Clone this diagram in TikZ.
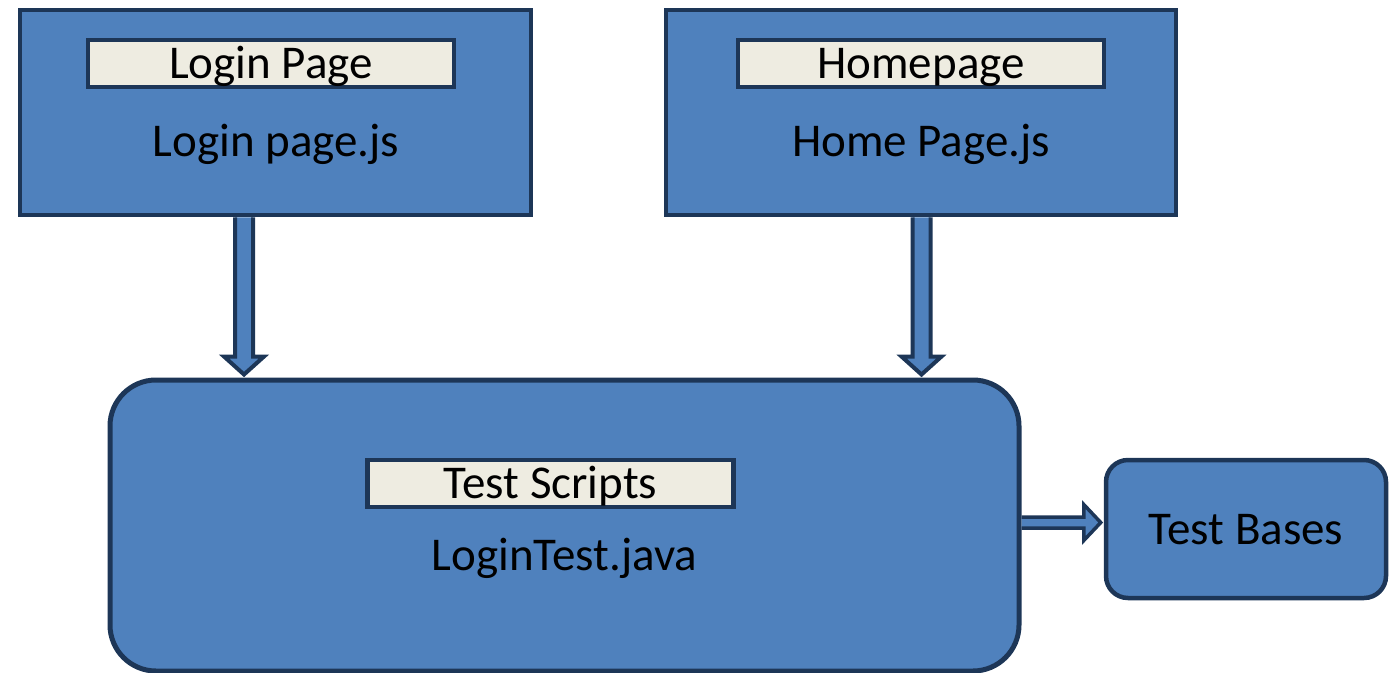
\documentclass[tikz,border=0pt]{standalone}
\usepackage{fontspec}
\setmainfont{Carlito}
\usetikzlibrary{calc}
\definecolor{boxblue}{HTML}{4F81BD}
\definecolor{navy}{HTML}{1D3657}
\definecolor{cream}{HTML}{EEECE1}
\begin{document}
\begin{tikzpicture}[x=1pt,y=-1pt,
  txt/.style={font=\fontsize{47}{50}\selectfont, text height=30pt, text depth=0pt, inner sep=0pt, text=black},
  bigbox/.style={draw=navy, line width=4.5pt, fill=boxblue, inner sep=0pt},
  labelbox/.style={draw=navy, line width=4.5pt, fill=cream, inner sep=0pt, minimum width=366pt, minimum height=47pt, txt},
  blockarrow/.style={draw=navy, fill=boxblue, line width=4pt, line join=miter}
]
\useasboundingbox (0,0) rectangle (1396,672);
% top boxes
\node[bigbox, minimum width=511pt, minimum height=205pt] (b1) at (275.5,112.5) {};
\node[bigbox, minimum width=510pt, minimum height=205pt] (b2) at (921,112.5) {};
\node[labelbox] (l1) at (271,63.5) {Login Page};
\node[labelbox] (l2) at (921,63.5) {Homepage};
\node[txt] (t1) at (276,141) {Login page.js};
\node[txt] (t2) at (921,141) {Home Page.js};
% big rounded box
\node[bigbox, line width=5pt, rounded corners=46pt, minimum width=909pt, minimum height=291pt] (ts) at (564.5,525.5) {};
\node[labelbox] (l3) at (550.5,483.5) {Test Scripts};
\node[txt] (t3) at (564.5,555) {LoginTest.java};
% test bases
\node[bigbox, rounded corners=22pt, minimum width=280pt, minimum height=138pt, txt] (tb) at (1246,529) {Test Bases};
% connector coordinates
\coordinate (x1) at (244,0);
\coordinate (x2) at (921.5,0);
\coordinate (y3) at (0,522.5);
\coordinate (s1) at (b1.south -| x1);
\coordinate (e1) at ($(ts.north -| x1)+(0,-3)$);
\coordinate (s2) at (b2.south -| x2);
\coordinate (e2) at ($(ts.north -| x2)+(0,-3)$);
\coordinate (s3) at (ts.east |- y3);
\coordinate (e3) at ($(tb.west |- y3)+(-3,0)$);
% arrows
\draw[blockarrow] ($(s1)+(-9,0)$) -- ($(e1)+(-9,-18)$) -- ($(e1)+(-20,-18)$) -- (e1)
  -- ($(e1)+(20,-18)$) -- ($(e1)+(9,-18)$) -- ($(s1)+(9,0)$);
\draw[blockarrow] ($(s2)+(-9,0)$) -- ($(e2)+(-9,-18)$) -- ($(e2)+(-20,-18)$) -- (e2)
  -- ($(e2)+(20,-18)$) -- ($(e2)+(9,-18)$) -- ($(s2)+(9,0)$);
\draw[blockarrow, line width=3.5pt] ($(s3)+(0,-5.5)$) -- ($(e3)+(-17,-5.5)$) -- ($(e3)+(-17,-18)$) -- (e3)
  -- ($(e3)+(-17,18)$) -- ($(e3)+(-17,5.5)$) -- ($(s3)+(0,5.5)$);
\end{tikzpicture}
\end{document}
